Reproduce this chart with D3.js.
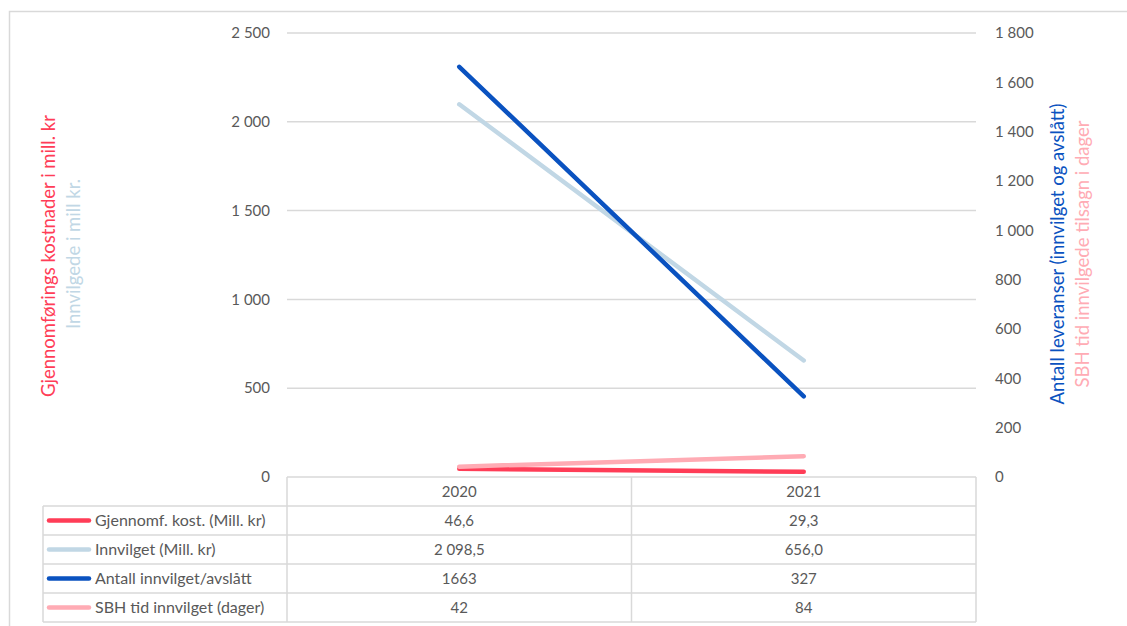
<!DOCTYPE html>
<html>
<head>
<meta charset="utf-8">
<script src="https://cdn.jsdelivr.net/npm/d3@7"></script>
<style>
  body { margin: 0; background: #fff; }
  text { font-family: Lato, "Open Sans", sans-serif; }
</style>
</head>
<body>
<div id="chart"></div>
<script>
// data
var years = ["2020", "2021"];
var kostnader = [46.6, 29.3];      // left axis
var innvilget = [2098.5, 656.0];   // left axis
var antall = [1663, 327];          // right axis
var sbhDager = [42, 84];           // right axis
var leftTicks = [0, 500, 1000, 1500, 2000, 2500];
var rightTicks = [0, 200, 400, 600, 800, 1000, 1200, 1400, 1600, 1800];
var tableText = [
  ["46,6", "29,3"],
  ["2 098,5", "656,0"],
  ["1663", "327"],
  ["42", "84"]
];

var series = [
  {name: "Gjennomf. kost. (Mill. kr)", values: kostnader, axis: "left", color: "#ff3d57"},
  {name: "Innvilget (Mill. kr)", values: innvilget, axis: "left", color: "#c1d7e5"},
  {name: "Antall innvilget/avslått", values: antall, axis: "right", color: "#0a52c0"},
  {name: "SBH tid innvilget (dager)", values: sbhDager, axis: "right", color: "#ffabb4"}
];

var W = 1127, H = 626;
var plot = {left: 287, right: 976, top: 33, bottom: 477};
var rowH = 29;

var nf = d3.formatLocale({decimal: ",", thousands: "\u00a0", grouping: [3], currency: ["", ""]}).format(",");

var svg = d3.select("#chart").append("svg")
  .attr("width", W)
  .attr("height", H);

// outer frame (only top and left show)
svg.append("rect")
  .attr("x", 9.5).attr("y", 11.5)
  .attr("width", 1140).attr("height", 640)
  .attr("fill", "none")
  .attr("stroke", "#d9d9d9")
  .attr("stroke-width", 1.5);

var x = d3.scaleBand().domain(years).range([plot.left, plot.right]);
var yL = d3.scaleLinear().domain([0, 2500]).range([plot.bottom, plot.top]);
var yR = d3.scaleLinear().domain([0, 1800]).range([plot.bottom, plot.top]);

// gridlines
svg.append("g")
  .selectAll("line")
  .data(leftTicks.filter(function(d) { return d > 0; }))
  .enter().append("line")
    .attr("x1", plot.left).attr("x2", plot.right)
    .attr("y1", function(d) { return yL(d); })
    .attr("y2", function(d) { return yL(d); })
    .attr("stroke", "#d9d9d9")
    .attr("stroke-width", 1.5);

// left axis labels
svg.append("g")
  .selectAll("text")
  .data(leftTicks)
  .enter().append("text")
    .attr("x", 270)
    .attr("y", function(d) { return yL(d); })
    .attr("dy", "0.35em")
    .attr("text-anchor", "end")
    .attr("font-size", "15px")
    .attr("fill", "#595959")
    .text(function(d) { return nf(d); });

// right axis labels
svg.append("g")
  .selectAll("text")
  .data(rightTicks)
  .enter().append("text")
    .attr("x", 995)
    .attr("y", function(d) { return yR(d); })
    .attr("dy", "0.35em")
    .attr("font-size", "15px")
    .attr("fill", "#595959")
    .text(function(d) { return nf(d); });

// lines
var lineG = svg.append("g");
series.forEach(function(s) {
  var y = s.axis === "left" ? yL : yR;
  var line = d3.line()
    .x(function(d, i) { return x(years[i]) + x.bandwidth() / 2; })
    .y(function(d) { return y(d); });
  lineG.append("path")
    .datum(s.values)
    .attr("d", line)
    .attr("fill", "none")
    .attr("stroke", s.color)
    .attr("stroke-width", 4.5)
    .attr("stroke-linecap", "round");
});

// data table under the chart
var tbl = svg.append("g").attr("stroke", "#d9d9d9").attr("stroke-width", 1.5);
var legendLeft = 43;
var nRows = series.length;
// horizontal lines
tbl.append("line").attr("x1", plot.left).attr("x2", plot.right)
  .attr("y1", plot.bottom).attr("y2", plot.bottom);
for (var r = 1; r <= nRows + 1; r++) {
  tbl.append("line").attr("x1", legendLeft).attr("x2", plot.right)
    .attr("y1", plot.bottom + r * rowH).attr("y2", plot.bottom + r * rowH);
}
// vertical lines
[plot.left, x("2021"), plot.right].forEach(function(vx) {
  tbl.append("line").attr("x1", vx).attr("x2", vx)
    .attr("y1", plot.bottom).attr("y2", plot.bottom + (nRows + 1) * rowH);
});
tbl.append("line").attr("x1", legendLeft).attr("x2", legendLeft)
  .attr("y1", plot.bottom + rowH).attr("y2", plot.bottom + (nRows + 1) * rowH);

// header years
svg.append("g").selectAll("text")
  .data(years)
  .enter().append("text")
    .attr("x", function(d) { return x(d) + x.bandwidth() / 2; })
    .attr("y", plot.bottom + rowH / 2)
    .attr("dy", "0.35em")
    .attr("text-anchor", "middle")
    .attr("font-size", "15px")
    .attr("fill", "#595959")
    .text(function(d) { return d; });

// rows
series.forEach(function(s, i) {
  var cy = plot.bottom + (i + 1) * rowH + rowH / 2;
  svg.append("line")
    .attr("x1", 49).attr("x2", 89)
    .attr("y1", cy).attr("y2", cy)
    .attr("stroke", s.color)
    .attr("stroke-width", 4.5)
    .attr("stroke-linecap", "round");
  svg.append("text")
    .attr("x", 95).attr("y", cy)
    .attr("dy", "0.35em")
    .attr("font-size", "16px")
    .attr("fill", "#595959")
    .text(s.name);
  years.forEach(function(yr, j) {
    svg.append("text")
      .attr("x", x(yr) + x.bandwidth() / 2).attr("y", cy)
      .attr("dy", "0.35em")
      .attr("text-anchor", "middle")
      .attr("font-size", "15px")
      .attr("fill", "#595959")
      .text(tableText[i][j]);
  });
});

// axis titles
function vTitle(txt, cx, cy, color) {
  svg.append("text")
    .attr("transform", "translate(" + cx + "," + cy + ") rotate(-90)")
    .attr("text-anchor", "middle")
    .attr("font-size", "18.5px")
    .attr("fill", color)
    .text(txt);
}
vTitle("Gjennomførings kostnader i mill. kr", 55, 256, "#ff3d57");
vTitle("Innvilgede i mill kr.", 80, 254, "#c1d7e5");
vTitle("Antall leveranser (innvilget og avslått)", 1064, 254, "#0a52c0");
vTitle("SBH tid innvilgede tilsagn i dager", 1089, 254, "#ffabb4");
</script>
</body>
</html>
